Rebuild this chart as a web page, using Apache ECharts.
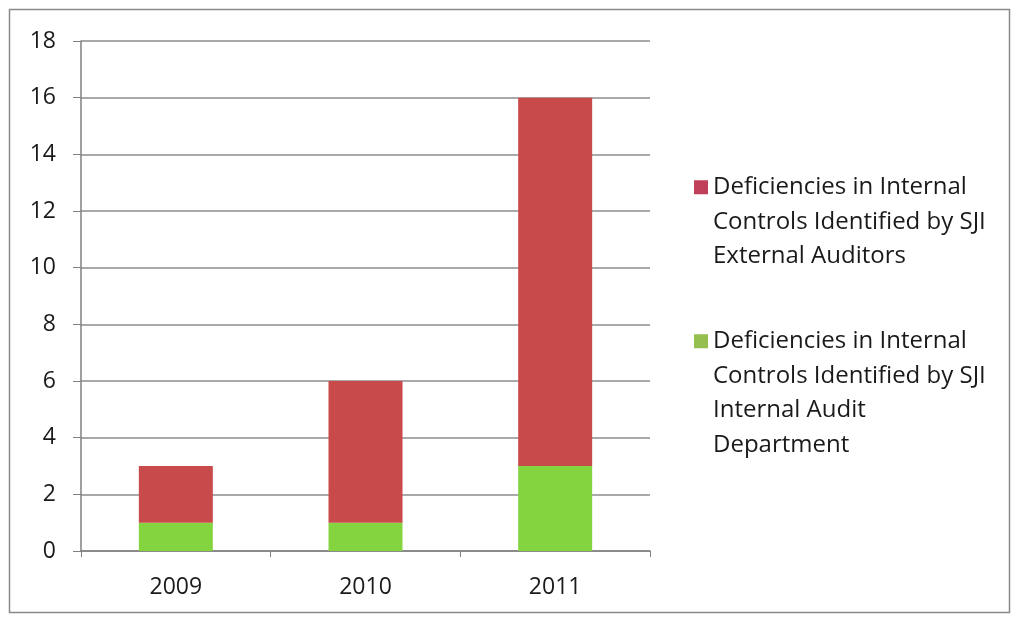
<!DOCTYPE html>
<html>
<head>
<meta charset="utf-8">
<script src="https://cdn.jsdelivr.net/npm/echarts@6/dist/echarts.min.js"></script>
<style>
  html, body { margin: 0; padding: 0; background: #fff; }
  #chart { width: 1014px; height: 617px; }
</style>
</head>
<body>
<div id="chart"></div>
<script>
// Yearly counts of internal-control deficiencies, stacked by source
const years = ['2009', '2010', '2011'];
const internalAudit = [1, 1, 3];
const externalAuditors = [2, 5, 13];
const yTicks = { min: 0, max: 18, interval: 2 };

const nameExternal = 'Deficiencies in Internal Controls Identified by SJI External Auditors';
const nameInternal = 'Deficiencies in Internal Controls Identified by SJI Internal Audit Department';
const legendLines = {};
legendLines[nameExternal] = 'Deficiencies in Internal\nControls Identified by SJI\nExternal Auditors';
legendLines[nameInternal] = 'Deficiencies in Internal\nControls Identified by SJI\nInternal Audit\nDepartment';

const font = '"Open Sans", Lato, sans-serif';
const LINE_H = 34.5;
const SWATCH = 14;

// Legend entry whose swatch sits beside the first line of wrapped text.
// The icon path spans the full text height (two tiny corner specks fix its
// bounding box) while the visible square is placed next to line one.
function legendFor(name, color, lines, top) {
  const h = lines * LINE_H;
  const y0 = LINE_H / 2 - SWATCH / 2;
  const path = 'path://M0,0h0.01v0.01h-0.01Z' +
    'M0,' + y0 + 'h' + SWATCH + 'v' + SWATCH + 'h-' + SWATCH + 'Z' +
    'M' + (SWATCH - 0.01) + ',' + (h - 0.01) + 'h0.01v0.01h-0.01Z';
  return {
    orient: 'vertical',
    left: 694,
    top: top,
    padding: 0,
    itemWidth: SWATCH,
    itemHeight: h,
    textStyle: { fontFamily: font, fontSize: 24, color: '#1a1a1a', lineHeight: LINE_H },
    formatter: function (n) { return legendLines[n] || n; },
    data: [{ name: name, icon: path, itemStyle: { color: color } }]
  };
}

const chart = echarts.init(document.getElementById('chart'), null, { renderer: 'canvas' });

chart.setOption({
  backgroundColor: '#ffffff',
  animation: false,
  graphic: [{
    type: 'rect',
    shape: { x: 9.5, y: 9.5, width: 1000, height: 603 },
    style: { fill: 'none', stroke: '#8a8a8a', lineWidth: 1.5 },
    silent: true
  }],
  grid: { left: 81, top: 41, width: 569, height: 510, containLabel: false },
  legend: [
    legendFor(nameExternal, '#c0405a', 3, 170),
    legendFor(nameInternal, '#95c050', 4, 324)
  ],
  xAxis: {
    type: 'category',
    data: years,
    axisLine: { lineStyle: { color: '#808080', width: 1.5 } },
    axisTick: { show: true, length: 6, lineStyle: { color: '#808080' } },
    axisLabel: { fontFamily: font, fontSize: 23, color: '#1a1a1a', margin: 25 }
  },
  yAxis: {
    type: 'value',
    min: yTicks.min,
    max: yTicks.max,
    interval: yTicks.interval,
    axisLine: { show: true, lineStyle: { color: '#808080', width: 1.5 } },
    axisTick: { show: true, length: 8, lineStyle: { color: '#808080' } },
    axisLabel: { fontFamily: font, fontSize: 23, color: '#1a1a1a', margin: 25 },
    splitLine: { lineStyle: { color: '#8c8c8c', width: 1.5 } }
  },
  series: [
    {
      name: nameInternal,
      type: 'bar',
      stack: 'total',
      data: internalAudit,
      barWidth: 74,
      itemStyle: { color: '#84d440' }
    },
    {
      name: nameExternal,
      type: 'bar',
      stack: 'total',
      data: externalAuditors,
      barWidth: 74,
      itemStyle: { color: '#c94a4a' }
    }
  ]
});
</script>
</body>
</html>
